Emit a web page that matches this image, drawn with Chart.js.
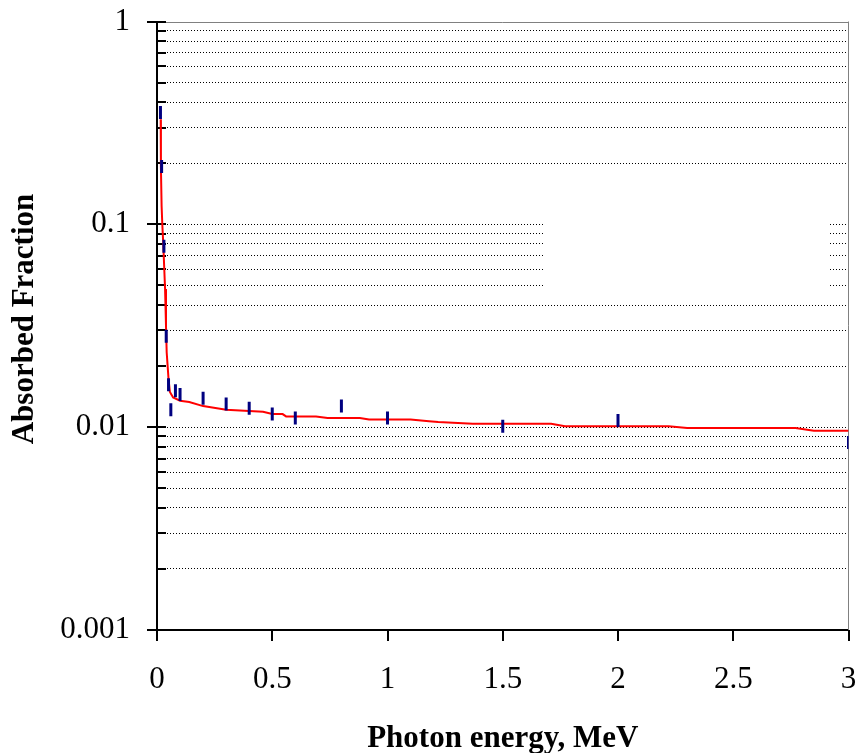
<!DOCTYPE html>
<html>
<head>
<meta charset="utf-8">
<script src="https://cdn.jsdelivr.net/npm/chart.js@4/dist/chart.umd.min.js"></script>
<style>
html,body{margin:0;padding:0;background:#ffffff;}
#wrap{width:858px;height:753px;position:relative;}
canvas{display:block;}
</style>
</head>
<body>
<div id="wrap"><canvas id="c" width="858" height="753"></canvas></div>
<script>
// ---- data ----
const markerEnergy   = [0.015, 0.02, 0.03, 0.04, 0.05, 0.06, 0.08, 0.1, 0.2, 0.3, 0.4, 0.5, 0.6, 0.8, 1.0, 1.5, 2.0, 3.0];
const markerFraction = [0.356, 0.193, 0.078, 0.0281, 0.0162, 0.0122, 0.0151, 0.0145, 0.0139, 0.0130, 0.0124, 0.0116, 0.0111, 0.0127, 0.0111, 0.0101, 0.0108, 0.0084];

const fitEnergy   = [0.016, 0.017, 0.020, 0.023, 0.027, 0.035, 0.039, 0.042, 0.050, 0.056, 0.070, 0.10, 0.14, 0.20, 0.30, 0.40, 0.46, 0.50, 0.545, 0.56, 0.69, 0.74, 0.88, 0.92, 1.10, 1.18, 1.22, 1.37, 1.71, 1.77, 2.22, 2.30, 2.77, 2.85, 3.0];
const fitFraction = [0.33, 0.19, 0.123, 0.100, 0.081, 0.048, 0.0316, 0.0234, 0.0173, 0.0149, 0.0140, 0.0135, 0.0133, 0.0127, 0.0122, 0.0120, 0.0119, 0.0116, 0.0116, 0.0113, 0.0113, 0.0111, 0.0111, 0.0109, 0.0109, 0.0107, 0.0106, 0.0104, 0.0104, 0.0101, 0.0101, 0.0099, 0.0099, 0.0096, 0.0096];

const xTickValues = [0, 0.5, 1, 1.5, 2, 2.5, 3];
const xTickLabels = ['0', '0.5', '1', '1.5', '2', '2.5', '3'];
const yDecades = [0.001, 0.01, 0.1, 1];
const yTickLabels = ['0.001', '0.01', '0.1', '1'];
const yMinorMultipliers = [2, 3, 4, 5, 6, 7, 8, 9];
const xTitle = 'Photon energy, MeV';
const yTitle = 'Absorbed Fraction';

// ---- build ----
const toPoints = (xs, ys) => xs.map((x, i) => ({x: x, y: ys[i]}));
const SERIF = "'Times New Roman', 'Liberation Serif', 'DejaVu Serif', serif";

function buildYTicks() {
  const t = [];
  yDecades.forEach((d, i) => {
    t.push({value: d, major: true});
    if (i < yDecades.length - 1) yMinorMultipliers.forEach(m => t.push({value: +(d * m).toPrecision(6), major: false}));
  });
  return t;
}
const isDecade = v => yDecades.some(d => Math.abs(v - d) / d < 1e-6);
const zeroPad = s => { s.paddingLeft = 0; s.paddingRight = 0; s.paddingTop = 0; s.paddingBottom = 0; };

// white box (hidden legend area) that interrupts some grid lines, frame, tick marks
const underPlugin = {
  id: 'under',
  beforeDatasetsDraw(chart) {
    const {ctx, chartArea: a, scales: {x, y}} = chart;
    ctx.save();
    ctx.fillStyle = '#ffffff';
    ctx.fillRect(544, 216, 286, 77);
    // grey top and right frame
    ctx.strokeStyle = '#808080';
    ctx.lineWidth = 1;
    ctx.beginPath();
    ctx.moveTo(a.left, Math.round(a.top) + 0.5);
    ctx.lineTo(a.right, Math.round(a.top) + 0.5);
    ctx.moveTo(Math.round(a.right) - 0.5, a.top);
    ctx.lineTo(Math.round(a.right) - 0.5, a.bottom);
    ctx.stroke();
    // y ticks
    ctx.strokeStyle = '#000000';
    ctx.lineWidth = 2;
    ctx.beginPath();
    y.ticks.forEach(t => {
      const py = Math.round(y.getPixelForValue(t.value));
      const x0 = isDecade(t.value) ? a.left - 10 : a.left;
      ctx.moveTo(x0, py);
      ctx.lineTo(a.left + 9, py);
    });
    ctx.stroke();
    // x ticks
    ctx.beginPath();
    xTickValues.forEach(v => {
      const px = Math.round(x.getPixelForValue(v));
      ctx.moveTo(px, a.bottom);
      ctx.lineTo(px, a.bottom + 11);
    });
    ctx.stroke();
    ctx.restore();
  },
  afterDraw(chart) {
    // rotated y-axis title
    const ctx = chart.ctx;
    ctx.save();
    ctx.translate(25, 319);
    ctx.rotate(-Math.PI / 2);
    ctx.font = "bold 31px " + SERIF;
    ctx.fillStyle = '#000000';
    ctx.textAlign = 'center';
    ctx.textBaseline = 'middle';
    ctx.fillText(yTitle, 0, 0);
    ctx.restore();
  }
};

new Chart(document.getElementById('c'), {
  type: 'scatter',
  data: {
    datasets: [
      {
        label: 'measured',
        data: toPoints(markerEnergy, markerFraction),
        showLine: false,
        pointStyle: 'line',
        rotation: 90,
        pointRadius: 6.5,
        pointBorderWidth: 3,
        borderColor: '#000080',
        backgroundColor: '#000080',
        pointBorderColor: '#000080'
      },
      {
        label: 'fit',
        data: toPoints(fitEnergy, fitFraction),
        showLine: true,
        borderColor: '#ff0000',
        borderWidth: 2,
        pointRadius: 0,
        tension: 0,
        fill: false
      }
    ]
  },
  options: {
    responsive: false,
    animation: false,
    devicePixelRatio: 1,
    layout: {padding: {top: 21.5, right: 9, left: 0, bottom: 0}},
    plugins: {legend: {display: false}, tooltip: {enabled: false}},
    scales: {
      x: {
        type: 'linear',
        min: 0, max: 3,
        afterBuildTicks: s => { s.ticks = xTickValues.map(v => ({value: v})); },
        afterFit: s => { s.height = 123; zeroPad(s); },
        grid: {display: false, drawTicks: false},
        border: {display: true, color: '#000000', width: 2},
        ticks: {
          autoSkip: false, maxRotation: 0, minRotation: 0, padding: 31,
          color: '#000000',
          font: {family: SERIF, size: 31, lineHeight: 1.2},
          callback: (v) => {
            const i = xTickValues.findIndex(t => Math.abs(t - v) < 1e-9);
            return i >= 0 ? xTickLabels[i] : '';
          }
        },
        title: {
          display: true, text: xTitle, color: '#000000',
          font: {family: SERIF, size: 31, weight: 'bold', lineHeight: 1},
          padding: {top: 0, bottom: -1}
        }
      },
      y: {
        type: 'logarithmic',
        min: 0.001, max: 1,
        afterBuildTicks: s => { s.ticks = buildYTicks(); },
        afterFit: s => { s.width = 157; zeroPad(s); },
        grid: {
          display: true, drawTicks: false, lineWidth: 1,
          color: ctx => (ctx.tick && (ctx.tick.value === 1 || ctx.tick.value === 0.001)) ? 'rgba(0,0,0,0)' : '#000000'
        },
        border: {display: true, color: '#000000', width: 2, dash: [1, 2]},
        ticks: {
          autoSkip: false, padding: 27, color: '#000000',
          font: {family: SERIF, size: 31, lineHeight: 1.2},
          callback: (v) => {
            const i = yDecades.findIndex(d => Math.abs(v - d) / d < 1e-6);
            return i >= 0 ? yTickLabels[i] : '';
          }
        },
        title: {display: false}
      }
    }
  },
  plugins: [underPlugin]
});
</script>
</body>
</html>
